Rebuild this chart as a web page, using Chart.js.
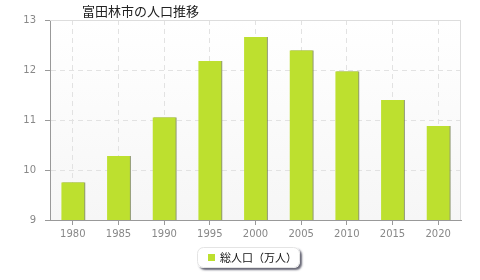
<!DOCTYPE html>
<html>
<head>
<meta charset="utf-8">
<script src="https://cdn.jsdelivr.net/npm/chart.js@4"></script>
<style>
  html, body { margin:0; padding:0; background:#fff; }
  #wrap { width:480px; height:280px; }
</style>
</head>
<body>
<div id="wrap"><canvas id="popChart" width="480" height="280"></canvas></div>
<script>
// data
const years  = ['1980','1985','1990','1995','2000','2005','2010','2015','2020'];
const totals = [9.75, 10.28, 11.05, 12.18, 12.66, 12.39, 11.97, 11.40, 10.88];
const yTicks = [9, 10, 11, 12, 13];
const titleText  = '富田林市の人口推移';
const seriesName = '総人口（万人）';

const JP = '"Noto Sans CJK JP", "DejaVu Sans", sans-serif';
const BAR = '#bde02f';

// plot background + top/right frame + title + legend
const frame = {
  id:'frame',
  beforeDraw(c){
    const {ctx, chartArea:a} = c;
    ctx.save();
    const g = ctx.createLinearGradient(0, a.top, 0, a.bottom);
    g.addColorStop(0, '#ffffff'); g.addColorStop(1, '#f6f6f6');
    ctx.fillStyle = g;
    ctx.fillRect(a.left, a.top, a.right - a.left, a.bottom - a.top);
    ctx.restore();
  },
  afterDraw(c){
    const {ctx, chartArea:a} = c;
    ctx.save();
    ctx.strokeStyle = '#dddddd'; ctx.lineWidth = 1;
    ctx.beginPath();
    ctx.moveTo(a.left, a.top + .5); ctx.lineTo(a.right - .5, a.top + .5); ctx.lineTo(a.right - .5, a.bottom);
    ctx.stroke();
    ctx.fillStyle = '#222';
    ctx.font = '13px ' + JP;
    ctx.textBaseline = 'middle';
    ctx.fillText(titleText, 82, 11);

    // legend
    const x = 197, y = 247, w = 103, h = 21;
    ctx.save();
    ctx.shadowColor = 'rgba(40,40,60,0.7)'; ctx.shadowOffsetX = 2; ctx.shadowOffsetY = 2; ctx.shadowBlur = 2;
    ctx.fillStyle = '#fff';
    ctx.beginPath(); ctx.roundRect(x, y, w, h, 6); ctx.fill();
    ctx.restore();
    ctx.strokeStyle = '#e4e4e4';
    ctx.beginPath(); ctx.roundRect(x + .5, y + .5, w - 1, h - 1, 6); ctx.stroke();
    ctx.fillStyle = BAR;
    ctx.fillRect(208, 254, 7, 7);
    ctx.fillStyle = '#111';
    ctx.font = '11px ' + JP;
    ctx.fillText(seriesName, 220, 258);
    ctx.restore();
  }
};

// bar shadow
const barShadow = {
  id:'barShadow',
  beforeDatasetsDraw(c){ const x=c.ctx; x.save(); x.shadowColor='rgba(110,120,70,0.75)'; x.shadowOffsetX=1; x.shadowOffsetY=0; x.shadowBlur=0; },
  afterDatasetsDraw(c){ c.ctx.restore(); }
};

new Chart(document.getElementById('popChart').getContext('2d'), {
  type:'bar',
  data:{ labels:years, datasets:[{ label:seriesName, data:totals, backgroundColor:BAR, borderWidth:0,
    barPercentage:0.5, categoryPercentage:1.0 }]},
  options:{
    responsive:false, animation:false, devicePixelRatio:1,
    layout:{ padding:{ top:20, right:19, bottom:39, left:0 } },
    plugins:{
      title:{ display:false },
      tooltip:{ enabled:false },
      legend:{ display:false }
    },
    scales:{
      x:{
        grid:{ offset:false, color:'#e2e2e2', tickColor:'#999', tickLength:5, lineWidth:1 },
        border:{ color:'#999', dash:[5,4] },
        ticks:{ color:'#888', padding:3, font:{ family:'"DejaVu Sans", sans-serif', size:10 } },
        afterFit(s){ s.height = 21; }
      },
      y:{
        min:9, max:13,
        afterBuildTicks(s){ s.ticks = yTicks.map(v => ({ value:v })); },
        grid:{ color:'#e2e2e2', tickColor:'#999', tickLength:5 },
        border:{ color:'#999', dash:[5,4] },
        ticks:{ color:'#888', padding:9, font:{ family:'"DejaVu Sans", sans-serif', size:10 } },
        afterFit(s){ s.width = 50; }
      }
    }
  },
  plugins:[frame, barShadow]
});
</script>
</body>
</html>
